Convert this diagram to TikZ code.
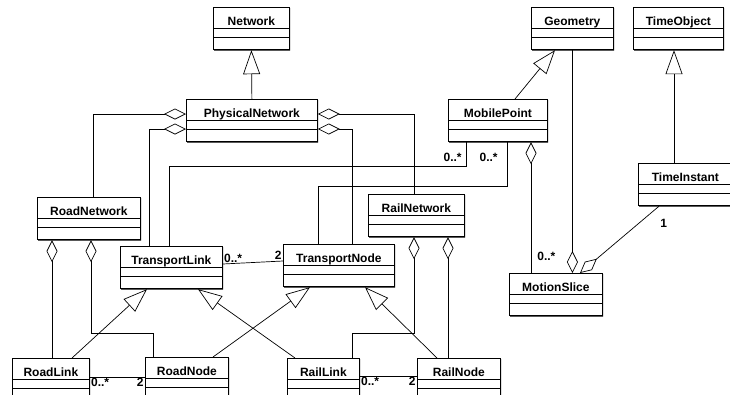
\documentclass[tikz,border=0pt]{standalone}
\usepackage{fontspec}
\setmainfont{Liberation Sans}
\usetikzlibrary{shapes.multipart,arrows.meta,shadows}

\tikzset{
  cls/.style={rectangle split, rectangle split parts=3, draw, fill=white,
    line width=0.8pt, inner xsep=0pt, inner ysep=0pt, text width=#1,
    align=center, anchor=north west, font=\bfseries\fontsize{12}{14}\selectfont,
    general shadow={fill=black, shadow xshift=0.8pt, shadow yshift=-0.8pt}},
  mult/.style={font=\bfseries\fontsize{12}{14}\selectfont, inner sep=1pt},
  gen/.style={-{Triangle[open,length=24pt,width=17pt]}},
  agg/.style={-{Diamond[open,length=22pt,width=11pt]}},
}
% class box: name part, empty attribute and operation parts
\newcommand{\cname}[1]{\rule[-2.5pt]{0pt}{20pt}#1\nodepart{two}\rule{0pt}{8pt}\nodepart{three}\rule{0pt}{12pt}}

\begin{document}
\begin{tikzpicture}[x=1pt, y=-1pt, line width=0.7pt]
\useasboundingbox (0,0) rectangle (730,394);
\clip (0,0) rectangle (730,394);

% classes
\node[cls=76pt] (network) at (213,7) {\cname{Network}};
\node[cls=82pt] (geometry) at (531,7) {\cname{Geometry}};
\node[cls=90pt] (timeobj) at (633,7) {\cname{TimeObject}};
\node[cls=131pt] (physnet) at (186,99) {\cname{PhysicalNetwork}};
\node[cls=99pt] (mobilept) at (448,99) {\cname{MobilePoint}};
\node[cls=94pt] (timeinst) at (638,163) {\cname{TimeInstant}};
\node[cls=103pt] (roadnet) at (37,197) {\cname{RoadNetwork}};
\node[cls=96pt] (railnet) at (368,194) {\cname{RailNetwork}};
\node[cls=102pt] (tlink) at (120,246) {\cname{TransportLink}};
\node[cls=111pt] (tnode) at (283,244) {\cname{TransportNode}};
\node[cls=93pt] (motion) at (509,273) {\cname{MotionSlice}};
\node[cls=77pt] (roadlink) at (12,358) {\cname{RoadLink}};
\node[cls=83pt] (roadnode) at (145,357) {\cname{RoadNode}};
\node[cls=72pt] (raillink) at (287,358) {\cname{RailLink}};
\node[cls=83pt] (railnode) at (417,358) {\cname{RailNode}};

% generalization
\draw[gen] (physnet.north) -- (network.south);
\draw[gen] ([xshift=67pt]mobilept.north west) -- ([xshift=24pt]geometry.south west);
\draw[gen] ([xshift=36pt]timeinst.north west) -- ([xshift=36pt]timeinst.north west |- timeobj.south);
\draw[gen] ([xshift=60pt]roadlink.north west) -- ([xshift=27pt]tlink.south west);
\draw[gen] ([xshift=8pt]raillink.north west) -- ([xshift=78pt]tlink.south west);
\draw[gen] ([xshift=68pt]roadnode.north west) -- ([xshift=27pt]tnode.south west);
\draw[gen] ([xshift=20pt]railnode.north west) -- ([xshift=82pt]tnode.south west);

% aggregation
\draw[agg] ([xshift=4pt]roadnet.north) |- ([yshift=-15pt]physnet.north west);
\draw[agg] ([xshift=29pt]tlink.north west) |- ([yshift=-30pt]physnet.north west);
\draw[agg] ([xshift=-2pt]railnet.north) |- ([yshift=-15pt]physnet.north east);
\draw[agg] ([xshift=69pt]tnode.north west) |- ([yshift=-30pt]physnet.north east);
\draw[agg] ([xshift=40pt]roadlink.north west) -- ([xshift=40pt]roadlink.north west |- roadnet.south);
\draw[agg] ([xshift=8pt]roadnode.north west) -- ++(0,-24) -| ([xshift=54pt]roadnet.south west);
\draw[agg] ([xshift=65pt]raillink.north west) -- ++(0,-25) -| ([xshift=46pt]railnet.south west);
\draw[agg] ([xshift=31pt]railnode.north west) -- ([xshift=31pt]railnode.north west |- railnet.south);
\draw[agg] ([xshift=22pt]motion.north west) -- ([xshift=83pt]mobilept.south west)
  node[mult, pos=0.13, right=5pt] {0..*};
\draw[agg] (geometry.south) -- (geometry.south |- motion.north);
\draw[agg] ([xshift=21pt]timeinst.south west) -- ([xshift=71pt]motion.north west)
  node[mult, pos=0, anchor=north west, yshift=-12pt] {1};

% association
\draw ([xshift=18pt]mobilept.south west) -- ++(0,24) node[mult, pos=0.62, left=3pt] {0..*}
  -| ([xshift=49pt]tlink.north west);
\draw ([xshift=59pt]mobilept.south west) -- ++(0,44) node[mult, pos=0.34, left=8pt] {0..*}
  -| ([xshift=35pt]tnode.north west);
\draw ([yshift=-18pt]tlink.north east) -- ([yshift=-17pt]tnode.north west)
  node[mult, pos=0, anchor=south west] {0..*} node[mult, pos=1, anchor=south east] {2};
\draw ([yshift=-19pt]roadlink.north east) -- ([yshift=-20pt]roadnode.north west)
  node[mult, pos=0, anchor=north west] {0..*} node[mult, pos=1, anchor=north east] {2};
\draw ([yshift=-18pt]raillink.north east) -- ([yshift=-18pt]railnode.north west)
  node[mult, pos=0, anchor=north west] {0..*} node[mult, pos=1, anchor=north east] {2};
\end{tikzpicture}
\end{document}
